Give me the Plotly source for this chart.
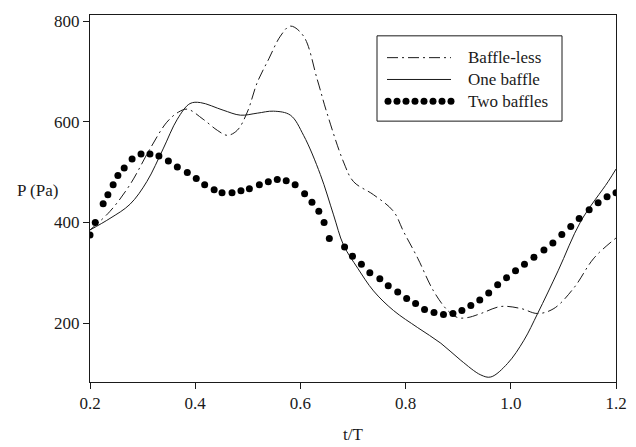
import plotly.graph_objects as go

# Baffle-less (dash-dot)
bl_t = [0.2, 0.238, 0.276, 0.314, 0.346, 0.368, 0.385, 0.415, 0.442, 0.461, 0.48, 0.499,
        0.518, 0.54, 0.562, 0.581, 0.606, 0.632, 0.65, 0.682, 0.701, 0.739, 0.777, 0.796,
        0.823, 0.853, 0.88, 0.899, 0.918, 0.943, 0.981, 1.019, 1.051, 1.082, 1.12, 1.158, 1.2]
bl_p = [385, 422, 475, 546, 599, 619, 625, 605, 583, 573, 583, 619,
        678, 725, 770, 790, 770, 684, 619, 520, 481, 455, 422, 382,
        329, 264, 225, 211, 211, 219, 233, 229, 219, 229, 270, 329, 369]

# One baffle (solid)
ob_t = [0.2, 0.238, 0.276, 0.308, 0.339, 0.366, 0.39, 0.41, 0.453, 0.486, 0.518, 0.549,
        0.581, 0.606, 0.638, 0.663, 0.682, 0.709, 0.739, 0.777, 0.823, 0.867, 0.905, 0.943,
        0.962, 0.994, 1.025, 1.051, 1.09, 1.133, 1.185, 1.2]
ob_p = [385, 408, 436, 481, 546, 605, 636, 638, 623, 613, 617, 621,
        613, 573, 495, 415, 355, 309, 264, 225, 191, 160, 126, 97,
        93, 120, 166, 219, 304, 402, 481, 506]

# Two baffles (dots)
tb_t = [0.2, 0.21, 0.225, 0.234, 0.244, 0.253, 0.265, 0.28, 0.297, 0.314, 0.331, 0.349,
        0.366, 0.385, 0.402, 0.418, 0.436, 0.451, 0.47, 0.487, 0.503, 0.522, 0.539, 0.556,
        0.573, 0.59, 0.608, 0.622, 0.635, 0.645, 0.655, 0.684, 0.699, 0.716, 0.732, 0.751,
        0.767, 0.785, 0.802, 0.819, 0.836, 0.854, 0.872, 0.89, 0.907, 0.924, 0.941, 0.958,
        0.975, 0.992, 1.009, 1.026, 1.044, 1.063, 1.08, 1.097, 1.114, 1.13, 1.149, 1.166,
        1.183, 1.2]
tb_p = [375, 400, 437, 455, 475, 493, 508, 526, 536, 536, 532, 522,
        510, 499, 487, 475, 465, 459, 459, 463, 467, 475, 481, 485,
        483, 475, 457, 440, 422, 400, 368, 351, 333, 317, 300, 288,
        274, 262, 249, 239, 227, 221, 217, 219, 225, 235, 246, 260,
        276, 290, 304, 317, 331, 345, 359, 376, 392, 408, 425, 439,
        451, 459]

x_ticks = [0.2, 0.4, 0.6, 0.8, 1.0, 1.2]
x_tick_labels = ["0.2", "0.4", "0.6", "0.8", "1.0", "1.2"]
y_ticks = [200, 400, 600, 800]
y_tick_labels = ["200", "400", "600", "800"]
series_names = ["Baffle-less", "One baffle", "Two baffles"]

FONT = "Times New Roman, Liberation Serif, Tinos, DejaVu Serif, serif"
INK = "#1a1a1a"

# The page body has an 8px default margin; size the figure so the plot area
# lands at page x 90..616, y 12..382.
BODY = 8

fig = go.Figure()
fig.add_trace(go.Scatter(x=bl_t, y=bl_p, mode="lines", name=series_names[0],
                         line=dict(color=INK, width=1, shape="spline", dash="11px,4px,2px,4px"),
                         showlegend=False))
fig.add_trace(go.Scatter(x=ob_t, y=ob_p, mode="lines", name=series_names[1],
                         line=dict(color=INK, width=1, shape="spline"),
                         showlegend=False))
fig.add_trace(go.Scatter(x=tb_t, y=tb_p, mode="markers", name=series_names[2],
                         marker=dict(color="black", size=7), showlegend=False))

# Legend samples drawn on an overlay axis spanning the plot area [0,1]
W = 616 - 90
H = 382 - 12
def px(x):
    return (x - 90) / W
def py(y):
    return (382 - y) / H

rows = [55, 77, 99]
x0, x1 = px(387), px(451)
fig.add_trace(go.Scatter(x=[x0, x1], y=[py(rows[0])] * 2, xaxis="x2", yaxis="y2", mode="lines",
                         line=dict(color=INK, width=1, dash="11px,4px,2px,4px"),
                         hoverinfo="skip", showlegend=False))
fig.add_trace(go.Scatter(x=[x0, x1], y=[py(rows[1])] * 2, xaxis="x2", yaxis="y2", mode="lines",
                         line=dict(color=INK, width=1), hoverinfo="skip", showlegend=False))
fig.add_trace(go.Scatter(x=[px(388 + 9 * i) for i in range(8)], y=[py(rows[2])] * 8,
                         xaxis="x2", yaxis="y2", mode="markers",
                         marker=dict(color="black", size=7), hoverinfo="skip", showlegend=False))
for name, r in zip(series_names, rows):
    fig.add_annotation(x=px(466), y=py(r), xref="paper", yref="paper", text=name,
                       showarrow=False, xanchor="left", yanchor="middle",
                       font=dict(family=FONT, size=17, color=INK))
fig.add_shape(type="rect", xref="paper", yref="paper", x0=px(377), x1=px(562),
              y0=py(119), y1=py(33), line=dict(color=INK, width=1))

# Axis titles
fig.add_annotation(x=px(15), y=py(189), xref="paper", yref="paper", text="P (Pa)",
                   showarrow=False, xanchor="left", yanchor="middle",
                   font=dict(family=FONT, size=17, color=INK))
fig.add_annotation(x=px(353), y=py(435), xref="paper", yref="paper", text="t/T",
                   showarrow=False, xanchor="center", yanchor="middle",
                   font=dict(family=FONT, size=17, color=INK))

fig.update_layout(
    width=636 - BODY, height=447 - BODY,
    margin=dict(l=90 - BODY, r=20, t=12 - BODY, b=65),
    paper_bgcolor="white", plot_bgcolor="white",
    font=dict(family=FONT, size=17, color=INK),
    xaxis=dict(range=[0.2, 1.2], tickvals=x_ticks, ticktext=x_tick_labels,
               showline=True, linecolor=INK, linewidth=1, mirror=True,
               ticks="outside", ticklen=6, tickcolor=INK, showgrid=False, zeroline=False),
    yaxis=dict(range=[83, 812], tickvals=y_ticks, ticktext=y_tick_labels,
               showline=True, linecolor=INK, linewidth=1, mirror=True,
               ticks="outside", ticklen=6, tickcolor=INK, showgrid=False, zeroline=False),
    xaxis2=dict(overlaying="x", range=[0, 1], visible=False, fixedrange=True),
    yaxis2=dict(overlaying="y", range=[0, 1], visible=False, fixedrange=True),
    showlegend=False,
)

fig.write_html("out.html")
